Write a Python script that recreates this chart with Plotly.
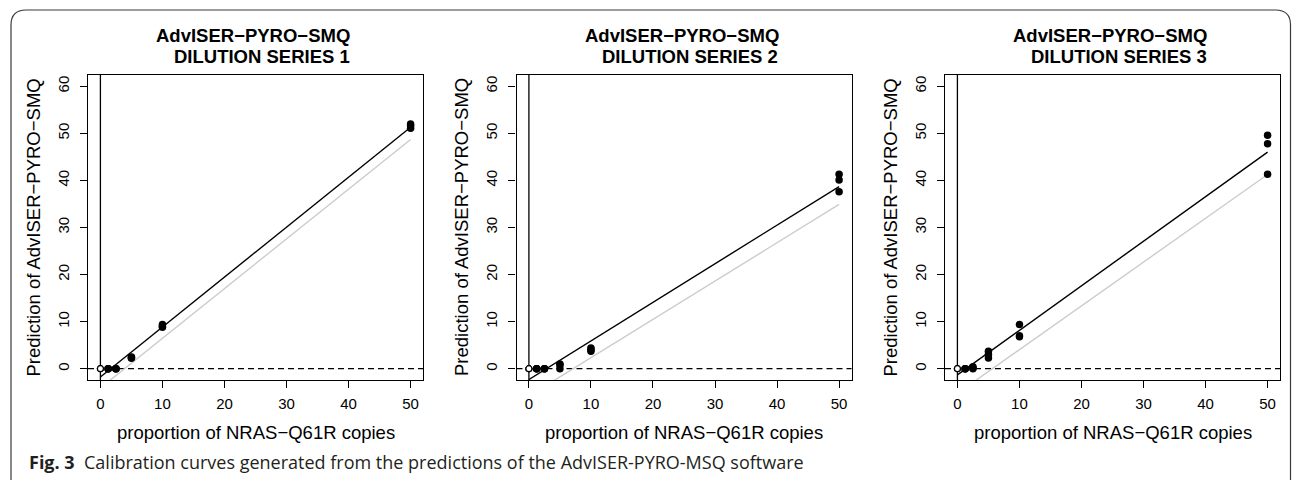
import plotly.graph_objects as go

W, H = 1292, 480

# ---- data ----
x_conc = [0, 0, 0, 1.25, 1.25, 1.25, 2.5, 2.5, 2.5, 5, 5, 5, 10, 10, 10, 50, 50, 50]
pred_series1 = [0, 0, 0, 0, 0, 0, 0, 0, 0, 2.2, 2.4, 2.5, 8.8, 9.0, 9.4, 51.1, 51.6, 52.0]
pred_series2 = [0, 0, 0, 0, 0, 0, 0, 0, 0, 0.0, 0.8, 1.0, 3.7, 4.1, 4.4, 37.6, 40.1, 41.3]
pred_series3 = [0, 0, 0, 0, 0, 0, 0, 0.2, 0.4, 2.3, 3.0, 3.7, 6.8, 7.0, 9.4, 41.3, 47.8, 49.6]
series_preds = [pred_series1, pred_series2, pred_series3]

fit_intercept = [-1.75, -2.3, -1.3]
fit_slope = [1.061, 0.82, 0.946]
low_intercept = [-4.1, -5.8, -5.25]
low_slope = [1.056, 0.814, 0.93]

titles = ["DILUTION SERIES 1", "DILUTION SERIES 2", "DILUTION SERIES 3"]
main_title = "AdvISER\u2212PYRO\u2212SMQ"
x_label = "proportion of NRAS\u2212Q61R copies"
y_label = "Prediction of AdvISER\u2212PYRO\u2212SMQ"
x_ticks = [0, 10, 20, 30, 40, 50]
y_ticks = [0, 10, 20, 30, 40, 50, 60]
line_x = [0, 50]

# ---- layout geometry (pixels) ----
panel_left = [88, 516.5, 945]
panel_width = 335
plot_top, plot_bottom = 75, 380

FONT = "Liberation Sans, Arial, sans-serif"

def px(x):
    return x / W

def py(y):
    return 1 - y / H

fig = go.Figure()
layout = dict(
    width=W, height=H, autosize=False,
    margin=dict(l=0, r=0, t=0, b=0),
    paper_bgcolor="white", plot_bgcolor="white",
    showlegend=False,
    font=dict(family=FONT, color="black"),
)
annotations = []
shapes = []

for i in range(3):
    n = "" if i == 0 else str(i + 1)
    xa, ya = "x" + n, "y" + n
    L = panel_left[i]
    R = L + panel_width
    layout["xaxis" + n] = dict(
        domain=[px(L), px(R)], range=[-2, 52], anchor=ya,
        tickvals=x_ticks, ticks="outside", ticklen=7, tickwidth=1.2, tickcolor="black",
        showline=True, mirror=True, linecolor="black", linewidth=1.3,
        showgrid=False, zeroline=False,
        tickfont=dict(family=FONT, size=15, color="black"),
        ticklabelstandoff=3,
    )
    layout["yaxis" + n] = dict(
        domain=[py(plot_bottom), py(plot_top)], range=[-2.4, 62.4], anchor=xa,
        tickvals=y_ticks, ticks="outside", ticklen=7, tickwidth=1.2, tickcolor="black",
        showline=True, mirror=True, linecolor="black", linewidth=1.3,
        showgrid=False, zeroline=False, tickangle=-90,
        tickfont=dict(family=FONT, size=15, color="black"),
        ticklabelstandoff=5,
    )
    shapes.append(dict(type="line", xref=xa, yref=ya + " domain", x0=0, x1=0, y0=0, y1=1,
                       line=dict(color="black", width=1.3), layer="below"))
    shapes.append(dict(type="line", xref=xa + " domain", yref=ya, x0=0, x1=1, y0=0, y1=0,
                       line=dict(color="black", width=1.2, dash="6px,4px"), layer="below"))
    fig.add_trace(go.Scatter(
        x=line_x, y=[low_intercept[i] + low_slope[i] * v for v in line_x],
        mode="lines", line=dict(color="#cccccc", width=1.4), xaxis=xa, yaxis=ya,
        hoverinfo="skip"))
    fig.add_trace(go.Scatter(
        x=line_x, y=[fit_intercept[i] + fit_slope[i] * v for v in line_x],
        mode="lines", line=dict(color="black", width=1.4), xaxis=xa, yaxis=ya,
        hoverinfo="skip"))
    preds = series_preds[i]
    xs_nz = [x for x in x_conc if x != 0]
    ys_nz = [y for x, y in zip(x_conc, preds) if x != 0]
    xs_z = [x for x in x_conc if x == 0]
    ys_z = [y for x, y in zip(x_conc, preds) if x == 0]
    fig.add_trace(go.Scatter(
        x=xs_nz, y=ys_nz, mode="markers",
        marker=dict(color="black", size=7.5, line=dict(width=0)),
        xaxis=xa, yaxis=ya, cliponaxis=False))
    fig.add_trace(go.Scatter(
        x=xs_z, y=ys_z, mode="markers",
        marker=dict(color="white", size=6, line=dict(color="black", width=1.2)),
        xaxis=xa, yaxis=ya, cliponaxis=False))

    cx = L + panel_width / 2
    annotations.append(dict(text="<b>" + main_title + "</b>", x=px(cx - 2.5), y=py(36),
                            xref="paper", yref="paper", showarrow=False,
                            xanchor="center", yanchor="middle",
                            font=dict(family=FONT, size=18.5, color="black")))
    annotations.append(dict(text="<b>" + titles[i] + "</b>", x=px(cx + 6), y=py(56),
                            xref="paper", yref="paper", showarrow=False,
                            xanchor="center", yanchor="middle",
                            font=dict(family=FONT, size=18.5, color="black")))
    annotations.append(dict(text=x_label, x=px(cx), y=py(432),
                            xref="paper", yref="paper", showarrow=False,
                            xanchor="center", yanchor="middle",
                            font=dict(family=FONT, size=18.5, color="black")))
    annotations.append(dict(text=y_label, x=px(L - 55), y=py((plot_top + plot_bottom) / 2),
                            xref="paper", yref="paper", showarrow=False, textangle=-90,
                            xanchor="center", yanchor="middle",
                            font=dict(family=FONT, size=18.5, color="black")))

annotations.append(dict(
    text="<b>Fig. 3</b>  Calibration curves generated from the predictions of the AdvISER-PYRO-MSQ software",
    x=px(27), y=py(462), xref="paper", yref="paper", showarrow=False,
    xanchor="left", yanchor="middle",
    font=dict(family="Open Sans, sans-serif", size=18, color="#231f20")))

r = 15
def P(x, y):
    return f"{px(x)},{py(y)}"
path = (f"M {P(11, 480)} L {P(11, 10 + r)} Q {P(11, 10)} {P(11 + r, 10)} "
        f"L {P(1290.5 - r, 10)} Q {P(1290.5, 10)} {P(1290.5, 10 + r)} L {P(1290.5, 480)}")
shapes.append(dict(type="path", xref="paper", yref="paper", path=path,
                   line=dict(color="#3a3a3a", width=1.2)))

layout["annotations"] = annotations
layout["shapes"] = shapes
fig.update_layout(**layout)
fig.write_html("out.html", config={"displayModeBar": False},
               post_script="document.body.style.margin='0';document.body.style.overflow='hidden';")
